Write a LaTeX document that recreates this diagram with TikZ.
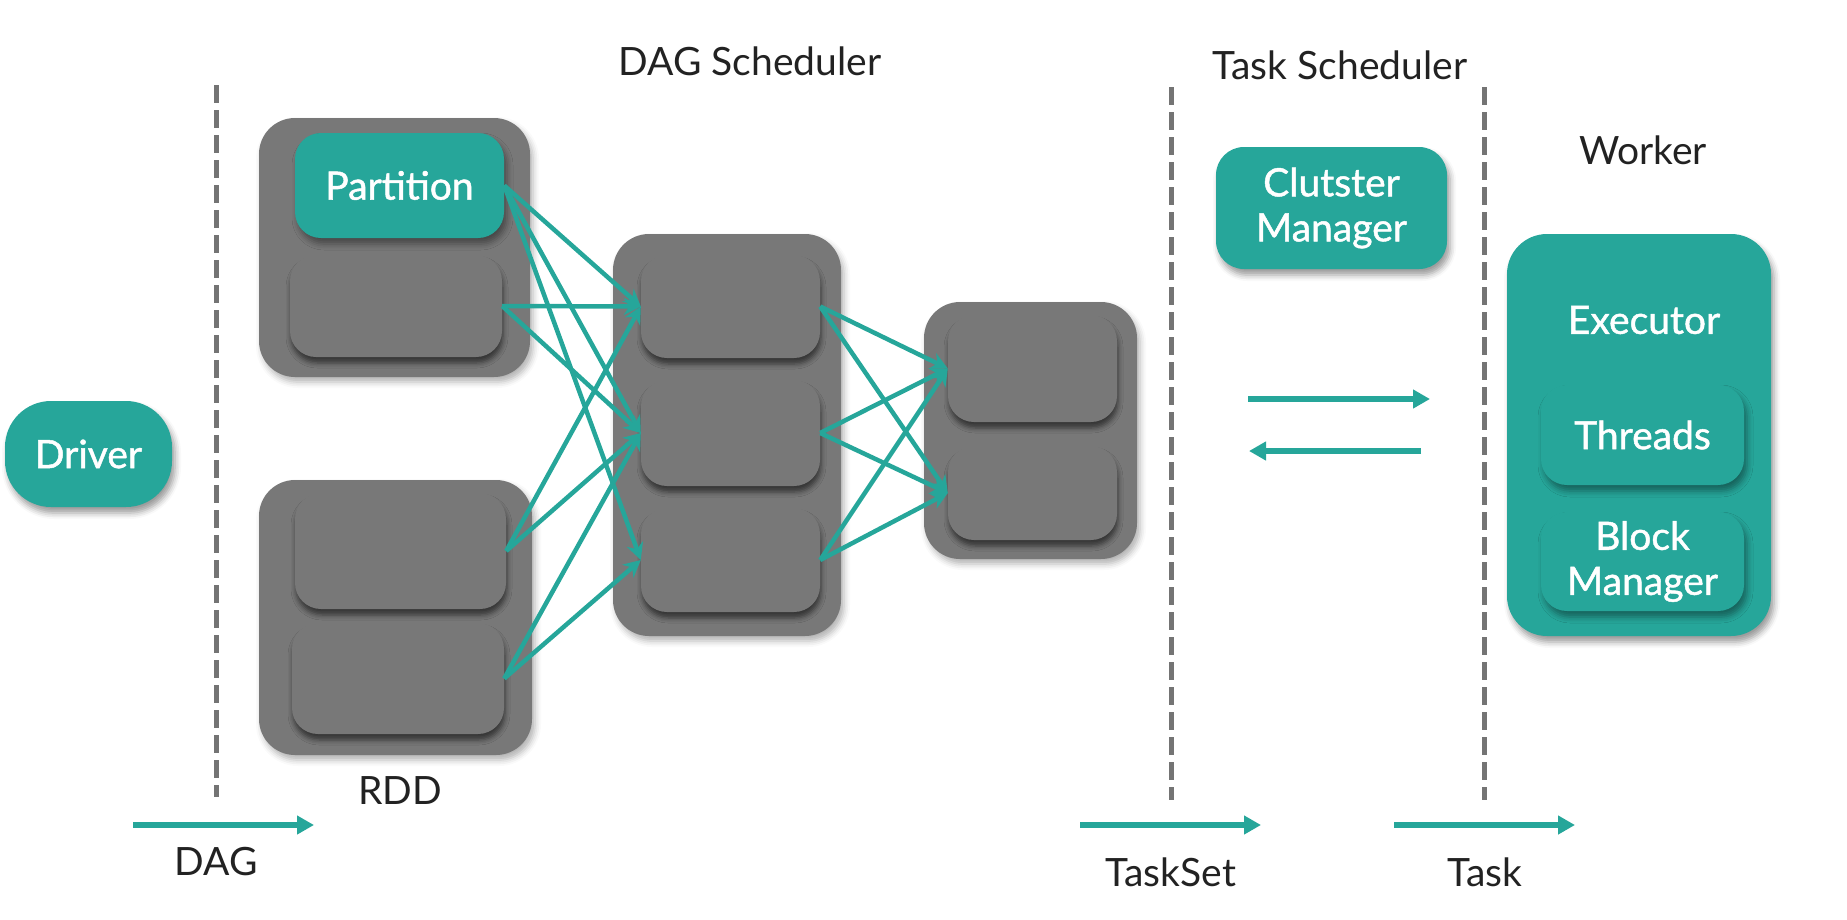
\documentclass[tikz,border=0pt]{standalone}
\usepackage{fontspec}
\setmainfont{Lato}
\newfontfamily\boxfamily{Lato}[FakeBold=1.2]
\usetikzlibrary{arrows.meta,shadows,shadows.blur}
\definecolor{sparkteal}{HTML}{26A69A}
\definecolor{boxgray}{HTML}{787878}
\definecolor{linegray}{HTML}{747474}
\definecolor{darktext}{HTML}{222222}
\newcommand{\labelfont}{\fontsize{39}{45}\selectfont}

\begin{document}
\begin{tikzpicture}[x=1pt,y=-1pt,
    % Define the style for the boxes
    box/.style={inner sep=0pt, align=center, font=\boxfamily\labelfont},
    stage/.style={box, fill=boxgray, rounded corners=36pt,
        blur shadow={shadow xshift=3pt, shadow yshift=-5pt, shadow blur radius=6pt, shadow opacity=30}},
    part/.style={box, fill=boxgray, rounded corners=26pt,
        blur shadow={shadow xshift=1pt, shadow yshift=-6pt, shadow blur radius=5pt, shadow opacity=55}},
    tealbox/.style={box, fill=sparkteal, text=white, rounded corners=#1,
        blur shadow={shadow xshift=3pt, shadow yshift=-6pt, shadow blur radius=6pt, shadow opacity=40}},
    tealbox/.default=28pt,
    title/.style={font=\labelfont, text=darktext, inner sep=0pt},
    % Define the style for the connecting lines
    connection/.style={-{Stealth[length=17pt,width=17pt]}, line width=4.5pt, sparkteal},
    flow/.style={-{Triangle[length=17pt,width=18pt]}, line width=6pt, sparkteal},
    border/.style={linegray, line width=5pt, dash pattern=on 18pt off 7pt}
]
\useasboundingbox (0,0) rectangle (1847,919);

% Driver
\node[tealbox=46pt, minimum width=167pt, minimum height=106pt] (driver) at (88.5,454) {Driver};

% Dashed borders between the stages
\draw[border] (216,85) -- (216,797);
\draw[border] (1171.5,87) -- (1171.5,800);
\draw[border] (1484,87) -- (1484,800);

% RDD with its partitions
\node[stage, minimum width=271pt, minimum height=259pt] (rdd1) at (394.5,247.5) {};
\node[tealbox=26pt, minimum width=209pt, minimum height=105pt] (part) at (399.5,185.5) {Partition};
\node[part, minimum width=212pt, minimum height=102pt] (r1b) at (396,306) {};
\node[stage, minimum width=273pt, minimum height=275pt] (rdd2) at (395.5,617.5) {};
\node[part, minimum width=211pt, minimum height=116pt] (r2a) at (400.5,551) {};
\node[part, minimum width=212pt, minimum height=111pt] (r2b) at (398,678.5) {};
\node[title] (rdd) at (400,791) {RDD};

% Second and third RDD
\node[stage, minimum width=228pt, minimum height=402pt] (mid) at (727,435) {};
\node[part, minimum width=179pt, minimum height=103pt] (m1) at (730.5,306.5) {};
\node[part, minimum width=179pt, minimum height=106pt] (m2) at (730.5,433) {};
\node[part, minimum width=179pt, minimum height=104pt] (m3) at (730.5,560) {};
\node[stage, minimum width=213pt, minimum height=257pt] (last) at (1030.5,430.5) {};
\node[part, minimum width=169pt, minimum height=107pt] (t1) at (1032.5,368.5) {};
\node[part, minimum width=169pt, minimum height=94pt] (t2) at (1032.5,493) {};

% Titles
\node[title] (dagsched) at (750,61) {DAG Scheduler};
\node[title] (tasksched) at (1340,65) {Task Scheduler};
\node[title] (worker) at (1643,150) {Worker};

% Cluster manager and worker
\node[tealbox, minimum width=231pt, minimum height=122pt] (cm) at (1331.5,208) {Clutster\\Manager};
\node[tealbox=40pt, minimum width=264pt, minimum height=402pt] (wk) at (1639,435) {};
\node[box, text=white] (exec) at (1644,320) {Executor};
\node[tealbox=26pt, minimum width=203pt, minimum height=100pt] (threads) at (1642.5,435) {Threads};
\node[tealbox=26pt, minimum width=203pt, minimum height=99pt] (block) at (1642.5,561.5) {Block\\Manager};

% Connect the partitions of one RDD to the next
\foreach \src/\dst in {part/m1,part/m2,part/m3,r1b/m1,r1b/m2,r2a/m1,r2a/m2,r2b/m2,r2b/m3}
    \draw[connection] (\src.east) -- (\dst.west);
\foreach \src in {m1,m2,m3}
    \foreach \dst in {t1,t2}
        \draw[connection] (\src.east) -- (\dst.west);

% Arrows between task scheduler and worker
\coordinate (ts-a) at (1248,399);
\coordinate (wk-a) at (1430,399);
\coordinate (wk-b) at (1421,451);
\coordinate (ts-b) at (1249,451);
\draw[flow] (ts-a) -- (wk-a);
\draw[flow] (wk-b) -- (ts-b);

% Bottom arrows with what is handed on
\node[title] (dag) at (216,862) {DAG};
\node[title] (taskset) at (1171,872) {TaskSet};
\node[title] (task) at (1485,872) {Task};
\coordinate (dag-l) at (133,825);
\coordinate (dag-r) at (314,825);
\coordinate (taskset-l) at (1080,825);
\coordinate (taskset-r) at (1261,825);
\coordinate (task-l) at (1394,825);
\coordinate (task-r) at (1575,825);
\draw[flow] (dag-l) -- (dag-r);
\draw[flow] (taskset-l) -- (taskset-r);
\draw[flow] (task-l) -- (task-r);

\end{tikzpicture}
\end{document}
